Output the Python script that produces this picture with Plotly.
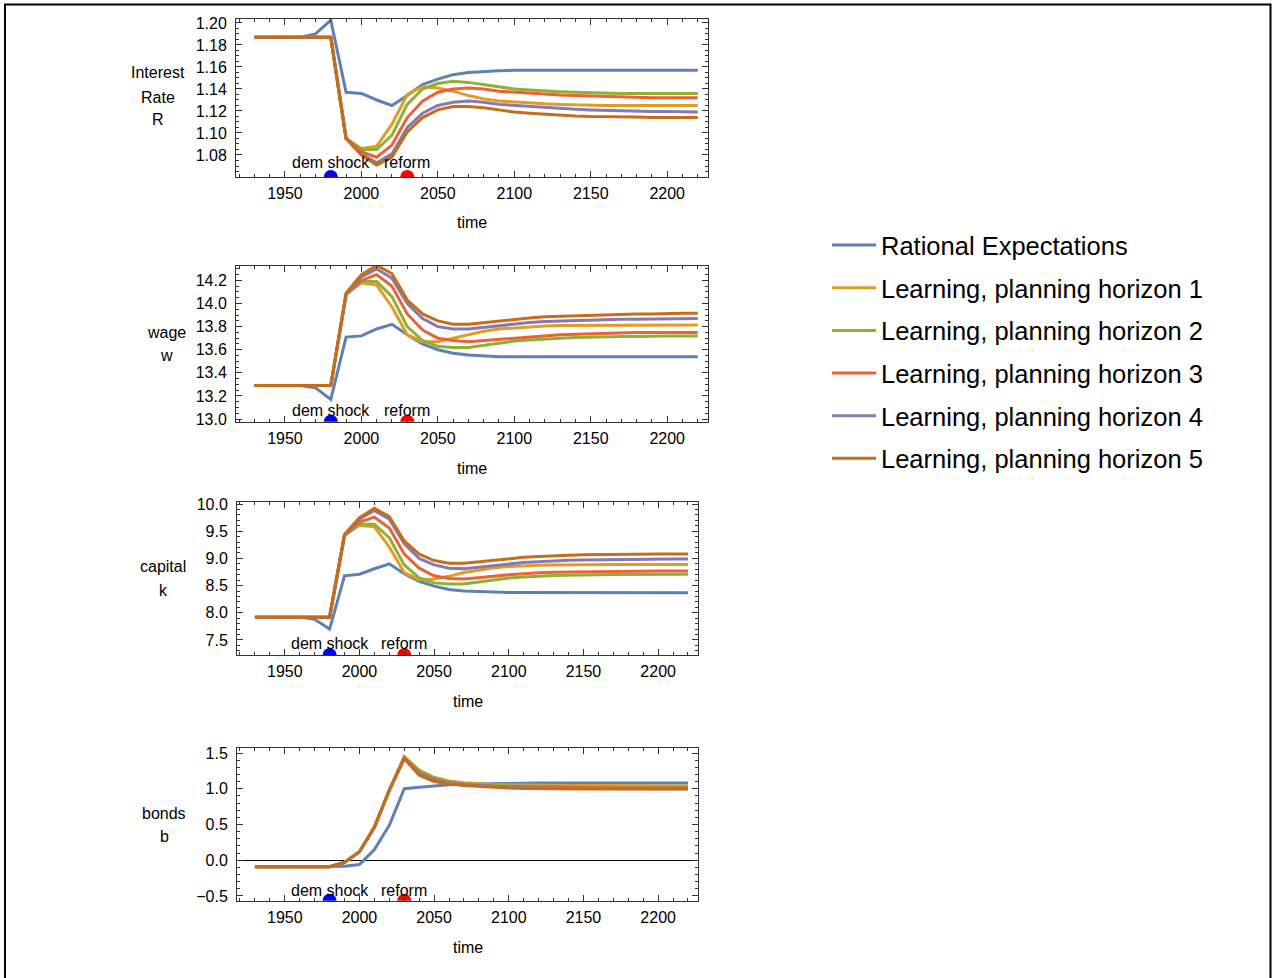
import plotly.graph_objects as go

W, H = 1276, 978

years = list(range(1930, 2221, 10))

series_names = [
    "Rational Expectations",
    "Learning, planning horizon 1",
    "Learning, planning horizon 2",
    "Learning, planning horizon 3",
    "Learning, planning horizon 4",
    "Learning, planning horizon 5",
]
series_colors = ["#5E81B5", "#E19C24", "#8FB032", "#EB6235", "#8778B3", "#C56E1A"]

# Interest rate R
R_re = [1.187, 1.187, 1.187, 1.187, 1.190, 1.2025, 1.137, 1.136, 1.130, 1.125,
        1.134, 1.144, 1.149, 1.153, 1.155, 1.156, 1.1565, 1.157, 1.157, 1.157,
        1.157, 1.157, 1.157, 1.157, 1.157, 1.157, 1.157, 1.157, 1.157, 1.157]
R_h1 = [1.187, 1.187, 1.187, 1.187, 1.187, 1.187, 1.095, 1.086, 1.088, 1.108,
        1.135, 1.142, 1.141, 1.138, 1.134, 1.131, 1.129, 1.128, 1.127, 1.1265,
        1.126, 1.1255, 1.125, 1.125, 1.125, 1.125, 1.125, 1.125, 1.125, 1.125]
R_h2 = [1.187, 1.187, 1.187, 1.187, 1.187, 1.187, 1.095, 1.085, 1.085, 1.098,
        1.126, 1.140, 1.145, 1.147, 1.146, 1.144, 1.142, 1.140, 1.139, 1.138,
        1.1375, 1.137, 1.1365, 1.136, 1.136, 1.136, 1.136, 1.136, 1.136, 1.136]
R_h3 = [1.187, 1.187, 1.187, 1.187, 1.187, 1.187, 1.095, 1.083, 1.078, 1.089,
        1.114, 1.129, 1.137, 1.140, 1.141, 1.140, 1.138, 1.137, 1.136, 1.135,
        1.1345, 1.134, 1.1335, 1.133, 1.133, 1.1325, 1.132, 1.132, 1.132, 1.132]
R_h4 = [1.187, 1.187, 1.187, 1.187, 1.187, 1.187, 1.095, 1.081, 1.073, 1.081,
        1.105, 1.118, 1.125, 1.128, 1.129, 1.128, 1.126, 1.125, 1.124, 1.123,
        1.122, 1.1215, 1.121, 1.1205, 1.120, 1.120, 1.1195, 1.1195, 1.119, 1.119]
R_h5 = [1.187, 1.187, 1.187, 1.187, 1.187, 1.187, 1.095, 1.080, 1.071, 1.078,
        1.101, 1.114, 1.121, 1.124, 1.124, 1.123, 1.121, 1.119, 1.118, 1.117,
        1.116, 1.1155, 1.115, 1.115, 1.1145, 1.1145, 1.114, 1.114, 1.114, 1.114]

# Wage w
w_re = [13.29, 13.29, 13.29, 13.29, 13.27, 13.17, 13.71, 13.72, 13.78, 13.82,
        13.73, 13.65, 13.60, 13.57, 13.555, 13.545, 13.54, 13.54, 13.54, 13.54,
        13.54, 13.54, 13.54, 13.54, 13.54, 13.54, 13.54, 13.54, 13.54, 13.54]
w_h1 = [13.29, 13.29, 13.29, 13.29, 13.29, 13.29, 14.08, 14.18, 14.16, 13.97,
        13.73, 13.67, 13.67, 13.70, 13.73, 13.76, 13.78, 13.79, 13.80, 13.805,
        13.81, 13.81, 13.81, 13.815, 13.815, 13.815, 13.815, 13.815, 13.815, 13.815]
w_h2 = [13.29, 13.29, 13.29, 13.29, 13.29, 13.29, 14.08, 14.19, 14.19, 14.06,
        13.80, 13.68, 13.63, 13.62, 13.62, 13.64, 13.66, 13.675, 13.685, 13.695,
        13.70, 13.705, 13.71, 13.71, 13.715, 13.715, 13.72, 13.72, 13.72, 13.72]
w_h3 = [13.29, 13.29, 13.29, 13.29, 13.29, 13.29, 14.08, 14.20, 14.25, 14.15,
        13.91, 13.77, 13.70, 13.68, 13.67, 13.68, 13.695, 13.705, 13.715, 13.725,
        13.73, 13.735, 13.74, 13.745, 13.745, 13.75, 13.75, 13.75, 13.75, 13.75]
w_h4 = [13.29, 13.29, 13.29, 13.29, 13.29, 13.29, 14.08, 14.23, 14.30, 14.22,
        14.00, 13.87, 13.80, 13.78, 13.78, 13.795, 13.81, 13.825, 13.835, 13.845,
        13.85, 13.855, 13.86, 13.86, 13.865, 13.865, 13.865, 13.87, 13.87, 13.87]
w_h5 = [13.29, 13.29, 13.29, 13.29, 13.29, 13.29, 14.09, 14.25, 14.33, 14.26,
        14.03, 13.91, 13.85, 13.82, 13.82, 13.835, 13.85, 13.865, 13.875, 13.885,
        13.89, 13.895, 13.90, 13.905, 13.905, 13.91, 13.91, 13.915, 13.915, 13.915]

# Capital k
k_re = [7.92, 7.92, 7.92, 7.92, 7.88, 7.70, 8.68, 8.71, 8.81, 8.90,
        8.72, 8.58, 8.49, 8.43, 8.40, 8.385, 8.38, 8.375, 8.375, 8.37,
        8.37, 8.37, 8.37, 8.37, 8.37, 8.37, 8.37, 8.37, 8.37, 8.37]
k_h1 = [7.92, 7.92, 7.92, 7.92, 7.92, 7.92, 9.42, 9.61, 9.58, 9.21,
        8.74, 8.61, 8.62, 8.67, 8.74, 8.79, 8.83, 8.85, 8.865, 8.875,
        8.88, 8.885, 8.89, 8.89, 8.89, 8.89, 8.89, 8.89, 8.89, 8.89]
k_h2 = [7.92, 7.92, 7.92, 7.92, 7.92, 7.92, 9.43, 9.63, 9.63, 9.38,
        8.88, 8.64, 8.55, 8.53, 8.53, 8.57, 8.61, 8.64, 8.66, 8.675,
        8.685, 8.69, 8.70, 8.70, 8.705, 8.705, 8.71, 8.71, 8.71, 8.71]
k_h3 = [7.92, 7.92, 7.92, 7.92, 7.92, 7.92, 9.43, 9.67, 9.76, 9.56,
        9.08, 8.82, 8.68, 8.63, 8.62, 8.64, 8.67, 8.70, 8.72, 8.735,
        8.745, 8.75, 8.755, 8.76, 8.765, 8.765, 8.77, 8.77, 8.77, 8.77]
k_h4 = [7.92, 7.92, 7.92, 7.92, 7.92, 7.92, 9.43, 9.72, 9.88, 9.72,
        9.27, 9.00, 8.88, 8.82, 8.81, 8.84, 8.87, 8.90, 8.925, 8.94,
        8.955, 8.965, 8.97, 8.975, 8.98, 8.985, 8.985, 8.99, 8.99, 8.99]
k_h5 = [7.92, 7.92, 7.92, 7.92, 7.92, 7.92, 9.44, 9.75, 9.92, 9.77,
        9.32, 9.08, 8.96, 8.91, 8.91, 8.94, 8.97, 9.00, 9.02, 9.035,
        9.05, 9.06, 9.065, 9.07, 9.075, 9.075, 9.08, 9.08, 9.08, 9.08]

# Bonds b
b_re = [-0.09, -0.09, -0.09, -0.09, -0.09, -0.09, -0.085, -0.06, 0.15, 0.49,
        1.00, 1.02, 1.04, 1.055, 1.065, 1.07, 1.075, 1.077, 1.078, 1.079,
        1.08, 1.08, 1.08, 1.08, 1.08, 1.08, 1.08, 1.08, 1.08, 1.08]
b_h1 = [-0.09, -0.09, -0.09, -0.09, -0.09, -0.09, -0.03, 0.12, 0.46, 0.98,
        1.45, 1.26, 1.16, 1.11, 1.085, 1.07, 1.06, 1.055, 1.05, 1.05,
        1.045, 1.045, 1.045, 1.045, 1.04, 1.04, 1.04, 1.04, 1.04, 1.04]
b_h2 = [-0.09, -0.09, -0.09, -0.09, -0.09, -0.09, -0.03, 0.12, 0.46, 0.98,
        1.44, 1.25, 1.15, 1.10, 1.07, 1.055, 1.045, 1.04, 1.035, 1.03,
        1.03, 1.025, 1.025, 1.025, 1.02, 1.02, 1.02, 1.02, 1.02, 1.02]
b_h3 = [-0.09, -0.09, -0.09, -0.09, -0.09, -0.09, -0.03, 0.12, 0.46, 0.98,
        1.43, 1.22, 1.13, 1.085, 1.06, 1.045, 1.035, 1.03, 1.025, 1.02,
        1.02, 1.015, 1.015, 1.015, 1.01, 1.01, 1.01, 1.01, 1.01, 1.01]
b_h4 = [-0.09, -0.09, -0.09, -0.09, -0.09, -0.09, -0.03, 0.12, 0.46, 0.98,
        1.43, 1.21, 1.12, 1.08, 1.055, 1.04, 1.03, 1.02, 1.015, 1.01,
        1.01, 1.005, 1.005, 1.005, 1.0, 1.0, 1.0, 1.0, 1.0, 1.0]
b_h5 = [-0.09, -0.09, -0.09, -0.09, -0.09, -0.09, -0.03, 0.12, 0.46, 0.98,
        1.42, 1.19, 1.10, 1.065, 1.045, 1.03, 1.02, 1.01, 1.005, 1.0,
        1.0, 0.995, 0.995, 0.995, 0.995, 0.995, 0.995, 0.995, 0.995, 0.995]

event_years = [1980, 2030]
event_labels = ["dem shock", "reform"]
event_colors = ["#0000FF", "#FF0000"]

FONT = "Liberation Sans, Arial, sans-serif"
FRAME = "#333333"


def px_x(p):
    return p / W


def px_y(p):
    return 1 - p / H


# panel layout in pixels: (left, right, top, bottom)
panels = [
    dict(data=[R_re, R_h1, R_h2, R_h3, R_h4, R_h5],
         box=(236, 708, 19, 177), yrange=[1.06, 1.2036],
         yticks=[1.08, 1.10, 1.12, 1.14, 1.16, 1.18, 1.20], fmt=".2f",
         minor=0.005, label=["Interest", "Rate", "R"], label_x=158,
         label_y=[73, 97, 120], ev_shift=14.5, title_shift=-45.5, zero=False),
    dict(data=[w_re, w_h1, w_h2, w_h3, w_h4, w_h5],
         box=(236, 708, 266, 421.7), yrange=[12.977, 14.325],
         yticks=[13.0, 13.2, 13.4, 13.6, 13.8, 14.0, 14.2], fmt=".1f",
         minor=0.05, label=["wage", "w"], label_x=166,
         label_y=[332, 355], ev_shift=10.7, title_shift=-46.5, zero=False),
    dict(data=[k_re, k_h1, k_h2, k_h3, k_h4, k_h5],
         box=(237, 698, 502, 655), yrange=[7.224, 10.037],
         yticks=[7.5, 8.0, 8.5, 9.0, 9.5, 10.0], fmt=".1f",
         minor=0.1, label=["capital", "k"], label_x=163,
         label_y=[566, 590], ev_shift=11, title_shift=-46.5, zero=False),
    dict(data=[b_re, b_h1, b_h2, b_h3, b_h4, b_h5],
         box=(237, 698, 748, 900.7), yrange=[-0.566, 1.57],
         yticks=[-0.5, 0.0, 0.5, 1.0, 1.5], fmt=".1f",
         minor=0.1, label=["bonds", "b"], label_x=164,
         label_y=[813, 836], ev_shift=10, title_shift=-46.5, zero=True),
]

XRANGE = [1918, 2226.7]

fig = go.Figure()
annotations = []
layout_axes = {}

for i, p in enumerate(panels, start=1):
    xa = "x" if i == 1 else f"x{i}"
    ya = "y" if i == 1 else f"y{i}"
    left, right, top, bottom = p["box"]

    for j, (vals, name, col) in enumerate(zip(p["data"], series_names, series_colors)):
        fig.add_trace(go.Scatter(
            x=years, y=vals, mode="lines", name=name,
            line=dict(color=col, width=3),
            legendgroup=name, showlegend=(i == 1),
            xaxis=xa, yaxis=ya, hoverinfo="skip",
        ))

    # event markers sit on the bottom frame
    fig.add_trace(go.Scatter(
        x=event_years, y=[p["yrange"][0]] * len(event_years), mode="markers",
        marker=dict(color=event_colors, size=14, line=dict(width=0)),
        showlegend=False, xaxis=xa, yaxis=ya, hoverinfo="skip",
    ))
    for ey, et in zip(event_years, event_labels):
        annotations.append(dict(
            x=ey, xref=xa, y=0, yref=f"{ya} domain", text=et, showarrow=False,
            xanchor="center", yanchor="middle", yshift=p["ev_shift"],
            font=dict(family=FONT, size=16, color="black"),
        ))

    # x-axis title
    annotations.append(dict(
        x=0.5, xref=f"{xa} domain", y=0, yref=f"{ya} domain", text="time",
        showarrow=False, xanchor="center", yanchor="middle",
        yshift=p["title_shift"],
        font=dict(family=FONT, size=16, color="black"),
    ))
    # y-axis label, one annotation per line
    for txt, ly in zip(p["label"], p["label_y"]):
        annotations.append(dict(
            x=px_x(p["label_x"]), xref="paper", y=px_y(ly), yref="paper",
            text=txt, showarrow=False, xanchor="center", yanchor="middle",
            font=dict(family=FONT, size=16, color="black"),
        ))

    common = dict(
        showline=True, linecolor=FRAME, linewidth=1, mirror="ticks",
        ticks="inside", tickcolor=FRAME, ticklen=6, tickwidth=1,
        showgrid=False, tickfont=dict(family=FONT, size=16, color="black"),
        fixedrange=True,
    )
    layout_axes["xaxis" if i == 1 else f"xaxis{i}"] = dict(
        common, domain=[px_x(left), px_x(right)], range=XRANGE, anchor=ya,
        tickvals=[1950, 2000, 2050, 2100, 2150, 2200], zeroline=False,
        minor=dict(ticks="inside", ticklen=3, dtick=10, tick0=1950,
                   tickcolor=FRAME, showgrid=False),
        ticklabelstandoff=2,
    )
    layout_axes["yaxis" if i == 1 else f"yaxis{i}"] = dict(
        common, domain=[px_y(bottom), px_y(top)], range=p["yrange"], anchor=xa,
        tickvals=p["yticks"], tickformat=p["fmt"],
        minor=dict(ticks="inside", ticklen=3, dtick=p["minor"], tick0=p["yticks"][0],
                   tickcolor=FRAME, showgrid=False),
        zeroline=p["zero"], zerolinecolor="black", zerolinewidth=1,
        ticklabelstandoff=5,
    )

fig.update_layout(
    width=W, height=H,
    margin=dict(l=0, r=0, t=0, b=0, autoexpand=False),
    paper_bgcolor="white", plot_bgcolor="white",
    font=dict(family=FONT, size=16, color="black"),
    annotations=annotations,
    legend=dict(
        x=px_x(827), y=px_y(222), xanchor="left", yanchor="top",
        font=dict(family=FONT, size=25.5, color="black"),
        tracegroupgap=6.5, bgcolor="rgba(0,0,0,0)", itemwidth=44,
    ),
    shapes=[dict(type="rect", xref="paper", yref="paper",
                 x0=px_x(5), x1=px_x(1270.5), y0=-0.05, y1=px_y(4.5),
                 line=dict(color="black", width=2))],
    **layout_axes,
)

fig.write_html("out.html")
